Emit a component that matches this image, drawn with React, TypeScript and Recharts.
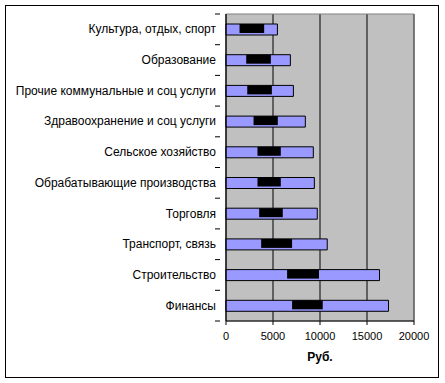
import React from 'react';
import { BarChart, Bar, XAxis, YAxis, CartesianGrid, ReferenceArea, Rectangle } from 'recharts';

const categories = [
  'Культура, отдых,  спорт',
  'Образование',
  'Прочие коммунальные и соц услуги',
  'Здравоохранение и соц услуги',
  'Сельское хозяйство',
  'Обрабатывающие производства',
  'Торговля',
  'Транспорт, связь',
  'Строительство',
  'Финансы',
];
const totalValues = [5470, 6850, 7170, 8440, 9290, 9400, 9710, 10770, 16330, 17290];
const rangeLow = [1440, 2150, 2260, 2930, 3350, 3350, 3530, 3740, 6500, 7030];
const rangeHigh = [4060, 4770, 4880, 5510, 5830, 5830, 6040, 7030, 9890, 10290];
const xTicks = [0, 5000, 10000, 15000, 20000];

const data = categories.map((c, i) => ({
  name: c,
  total: totalValues[i],
  range: [rangeLow[i], rangeHigh[i]],
}));

const FONT = '"Liberation Sans", Arial, sans-serif';

const YTick = (props: any) => {
  const { x, y, payload, index } = props;
  const half = 15.35;
  return (
    <g>
      <text x={x - 2} y={y} dy={4} textAnchor="end" fontSize={12} fontFamily={FONT} fill="#000">
        {payload.value}
      </text>
      <line x1={x - 3} x2={x + 2} y1={y + half} y2={y + half} stroke="#000" />
      {index === 0 ? <line x1={x - 3} x2={x + 2} y1={y - half} y2={y - half} stroke="#000" /> : null}
    </g>
  );
};

const BlackShape = (props: any) => {
  const { x, y, width, height } = props;
  return <Rectangle x={x} y={y - 1} width={width} height={height} fill="#000" />;
};

export default function App() {
  return (
    <div style={{ position: 'absolute', left: 0, top: 0, width: 445, height: 383, background: '#fff' }}>
      <div
        style={{
          position: 'absolute',
          left: 5,
          top: 5,
          width: 432,
          height: 371,
          border: '1px solid #000',
        }}
      />
      <div style={{ position: 'absolute', left: 0, top: 0 }}>
        <BarChart
          width={445}
          height={383}
          data={data}
          layout="vertical"
          margin={{ top: 14, right: 31, bottom: 0, left: 0 }}
        >
          <CartesianGrid horizontal={false} vertical={true} stroke="#000" fill="#C0C0C0" strokeDasharray="" />
          <ReferenceArea yAxisId="a" x1={0} x2={20000} fill="none" stroke="#808080" strokeWidth={1} />
          <XAxis
            type="number"
            domain={[0, 20000]}
            ticks={xTicks}
            interval={0}
            height={62}
            axisLine={{ stroke: '#000' }}
            tickLine={{ stroke: '#000' }}
            tickSize={4}
            tick={{ fontSize: 11, fontFamily: FONT, fill: '#000', dy: 5 }}
            label={{ value: 'Руб.', position: 'insideTop', offset: 31, fontSize: 12, fontWeight: 'bold', fontFamily: FONT, fill: '#000' }}
          />
          <YAxis
            yAxisId="a"
            type="category"
            dataKey="name"
            width={226}
            axisLine={{ stroke: '#000' }}
            tickLine={false}
            interval={0}
            tick={<YTick />}
          />
          <YAxis yAxisId="b" type="category" dataKey="name" hide />
          <Bar yAxisId="a" dataKey="total" fill="#9999FF" stroke="#000" strokeWidth={1} barSize={11} isAnimationActive={false} />
          <Bar yAxisId="b" dataKey="range" fill="#000" barSize={9} shape={<BlackShape />} isAnimationActive={false} />
        </BarChart>
      </div>
    </div>
  );
}
